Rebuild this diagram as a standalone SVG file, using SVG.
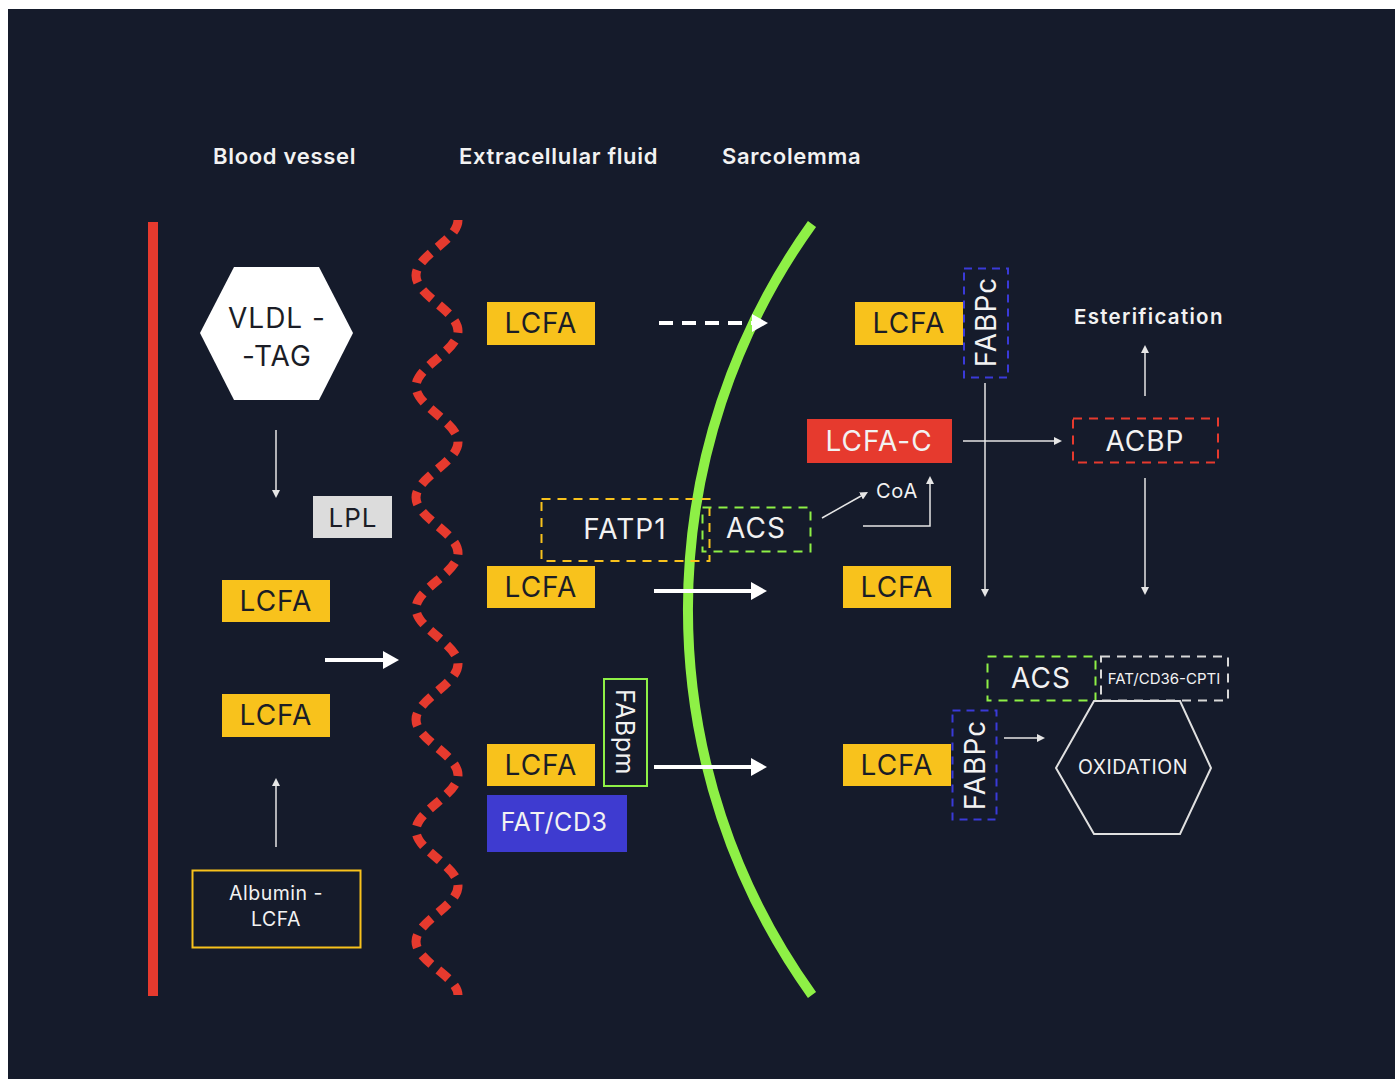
<svg xmlns="http://www.w3.org/2000/svg" width="1395" height="1079" viewBox="0 0 1395 1079">
<defs>
<style>
.hdr{font-family:Inter,"Liberation Sans",sans-serif;font-weight:600;font-size:22px;letter-spacing:0.7px;fill:#f2f2f2}
.lbl{font-family:Inter,"Liberation Sans",sans-serif;font-size:28px;letter-spacing:1px;text-anchor:middle;dominant-baseline:central}
.dark{fill:#1b1d26}
.light{fill:#f2f2f2}
.yel{fill:#f8c21c}
.thin{stroke:#e6e6e6;stroke-width:1.5;fill:none}
.thick{stroke:#ffffff;stroke-width:4;fill:none}
</style>
<marker id="ah" viewBox="0 0 8 8" markerWidth="8" markerHeight="8" refX="0" refY="4" orient="auto" markerUnits="userSpaceOnUse"><path d="M0,0 L8,4 L0,8 z" fill="#e6e6e6"/></marker>
<marker id="bh" viewBox="0 0 16 18" markerWidth="16" markerHeight="18" refX="0" refY="9" orient="auto" markerUnits="userSpaceOnUse"><path d="M0,0 L16,9 L0,18 z" fill="#ffffff"/></marker>
</defs>
<rect x="0" y="0" width="1395" height="1079" fill="#ffffff"/>
<rect x="8" y="9" width="1387" height="1070" fill="#151b2b"/>

<g id="headers">
<text class="hdr" x="213" y="164">Blood vessel</text>
<text class="hdr" x="459" y="164">Extracellular fluid</text>
<text class="hdr" x="722" y="164">Sarcolemma</text>
</g>

<g id="structures">
<line x1="153" y1="222" x2="153" y2="996" stroke="#e63a2e" stroke-width="10"/>
<path d="M458,220 C458,240.2 416,255.3 416,275.5 C416,295.7 458,310.8 458,331 C458,351.2 416,366.3 416,386.5 C416,406.7 458,421.8 458,442 C458,462.2 416,477.3 416,497.5 C416,517.7 458,532.8 458,553 C458,573.2 416,588.3 416,608.5 C416,628.7 458,643.8 458,664 C458,684.2 416,699.3 416,719.5 C416,739.7 458,754.8 458,775 C458,795.2 416,810.3 416,830.5 C416,850.7 458,865.8 458,886 C458,906.2 416,921.3 416,941.5 C416,961.7 458,976.8 458,995" fill="none" stroke="#e63a2e" stroke-width="9" stroke-dasharray="13 9"/>
<path d="M812,224 A661,661 0 0 0 812,995" fill="none" stroke="#8ef046" stroke-width="10"/>
</g>

<g id="connectors">
<line class="thin" x1="276" y1="430" x2="276" y2="490" marker-end="url(#ah)"/>
<line class="thin" x1="276" y1="847" x2="276" y2="786" marker-end="url(#ah)"/>
<line class="thin" x1="963" y1="441" x2="1054" y2="441" marker-end="url(#ah)"/>
<line class="thin" x1="985" y1="383" x2="985" y2="589" marker-end="url(#ah)"/>
<line class="thin" x1="1145" y1="396" x2="1145" y2="353" marker-end="url(#ah)"/>
<line class="thin" x1="1145" y1="478" x2="1145" y2="587" marker-end="url(#ah)"/>
<line class="thin" x1="822" y1="518" x2="861" y2="496" marker-end="url(#ah)"/>
<path class="thin" d="M863,526 H930 V484" marker-end="url(#ah)"/>
<line class="thin" x1="1004" y1="738" x2="1037" y2="738" marker-end="url(#ah)"/>
<line class="thick" x1="659" y1="323" x2="752" y2="323" stroke-dasharray="14 9" marker-end="url(#bh)"/>
<line class="thick" x1="654" y1="591" x2="751" y2="591" marker-end="url(#bh)"/>
<line class="thick" x1="654" y1="767" x2="751" y2="767" marker-end="url(#bh)"/>
<line class="thick" x1="325" y1="660" x2="383" y2="660" marker-end="url(#bh)"/>
</g>

<g id="vldl">
<polygon points="200,333 234,267 319,267 353,333 319,400 234,400" fill="#ffffff"/>
<text class="lbl dark" x="277" y="318">VLDL -</text>
<text class="lbl dark" x="277" y="356">-TAG</text>
</g>
<g id="lpl">
<rect x="313" y="496" width="79" height="42" fill="#dcdcdc"/>
<text class="lbl dark" x="353" y="517" style="font-size:26px">LPL</text>
</g>
<g id="lcfa-b1"><rect class="yel" x="222" y="580" width="108" height="42"/><text class="lbl dark" x="276" y="601">LCFA</text></g>
<g id="lcfa-b2"><rect class="yel" x="222" y="694" width="108" height="43"/><text class="lbl dark" x="276" y="715">LCFA</text></g>
<g id="albumin">
<rect x="192.5" y="870.5" width="168" height="77" fill="none" stroke="#f8c21c" stroke-width="2"/>
<text class="lbl light" x="276" y="893" style="font-size:19.5px;letter-spacing:0.5px">Albumin -</text>
<text class="lbl light" x="276" y="919" style="font-size:19.5px;letter-spacing:0.5px">LCFA</text>
</g>

<g id="lcfa-e1"><rect class="yel" x="487" y="302" width="108" height="43"/><text class="lbl dark" x="541" y="323">LCFA</text></g>
<g id="lcfa-e2"><rect class="yel" x="487" y="566" width="108" height="42"/><text class="lbl dark" x="541" y="587">LCFA</text></g>
<g id="lcfa-e3"><rect class="yel" x="487" y="744" width="108" height="42"/><text class="lbl dark" x="541" y="765">LCFA</text></g>
<g id="fatcd3">
<rect x="487" y="795" width="140" height="57" fill="#3e3bd0"/>
<text class="lbl light" x="554" y="822" style="font-size:25px;letter-spacing:0.5px">FAT/CD3</text>
</g>
<g id="fabpm">
<rect x="604" y="679" width="43" height="107" fill="none" stroke="#8ef046" stroke-width="2"/>
<text class="lbl light" x="625" y="732" style="font-size:25px;letter-spacing:0.5px" transform="rotate(90 625 732)">FABpm</text>
</g>
<g id="fatp1">
<rect x="541.5" y="499" width="168" height="62" fill="none" stroke="#f8c21c" stroke-width="2" stroke-dasharray="9 7"/>
<text class="lbl light" x="625" y="529">FATP1</text>
</g>
<g id="acs1">
<rect x="702.5" y="507.5" width="108" height="44" fill="none" stroke="#8ef046" stroke-width="2" stroke-dasharray="9 7"/>
<text class="lbl light" x="756" y="528">ACS</text>
</g>
<g id="coa"><text class="lbl light" x="897" y="491" style="font-size:20px;letter-spacing:0.8px">CoA</text></g>

<g id="lcfa-s1"><rect class="yel" x="855" y="302" width="108" height="43"/><text class="lbl dark" x="909" y="323">LCFA</text></g>
<g id="fabpc1">
<rect x="964" y="268.5" width="44" height="109" fill="none" stroke="#3a3ad8" stroke-width="2" stroke-dasharray="8 6"/>
<text class="lbl light" x="986" y="322" transform="rotate(-90 986 322)">FABPc</text>
</g>
<g id="lcfac">
<rect x="807" y="419" width="145" height="44" fill="#e63a2e"/>
<text class="lbl light" x="879" y="441">LCFA-C</text>
</g>
<g id="acbp">
<rect x="1073" y="418.5" width="145" height="44" fill="none" stroke="#e63a2e" stroke-width="2" stroke-dasharray="9 7"/>
<text class="lbl light" x="1145" y="441">ACBP</text>
</g>
<g id="esterification"><text class="hdr" x="1074" y="324" style="font-size:20.5px;letter-spacing:1.3px">Esterification</text></g>
<g id="lcfa-s2"><rect class="yel" x="843" y="566" width="108" height="42"/><text class="lbl dark" x="897" y="587">LCFA</text></g>
<g id="lcfa-s3"><rect class="yel" x="843" y="744" width="108" height="42"/><text class="lbl dark" x="897" y="765">LCFA</text></g>
<g id="fabpc2">
<rect x="952.5" y="710.5" width="44" height="109" fill="none" stroke="#3a3ad8" stroke-width="2" stroke-dasharray="8 6"/>
<text class="lbl light" x="975" y="765" transform="rotate(-90 975 765)">FABPc</text>
</g>
<g id="acs2">
<rect x="987.5" y="656.5" width="108" height="44" fill="none" stroke="#8ef046" stroke-width="2" stroke-dasharray="9 7"/>
<text class="lbl light" x="1041" y="678">ACS</text>
</g>
<g id="fatcd36">
<rect x="1101" y="656.5" width="127" height="44" fill="none" stroke="#d8d8d8" stroke-width="2" stroke-dasharray="9 7"/>
<text class="lbl light" x="1164" y="678" style="font-size:15px;letter-spacing:0px">FAT/CD36-CPTI</text>
</g>
<g id="oxidation">
<polygon points="1056,768 1094,701 1180,701 1211,768 1180,834 1094,834" fill="none" stroke="#e0e0e0" stroke-width="2"/>
<text class="lbl light" x="1133" y="767" style="font-size:19.5px;letter-spacing:0.5px">OXIDATION</text>
</g>
</svg>
